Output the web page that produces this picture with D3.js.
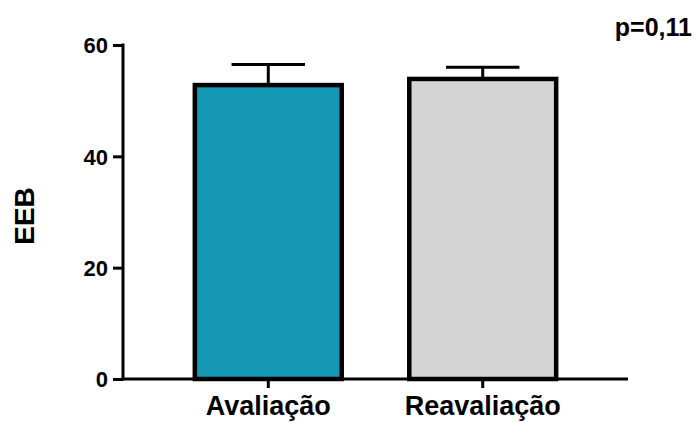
<!DOCTYPE html>
<html>
<head>
<meta charset="utf-8">
<script src="https://cdn.jsdelivr.net/npm/d3@7"></script>
<style>
  html, body { margin: 0; padding: 0; background: #fff; }
  svg { display: block; font-family: "Liberation Sans", Arial, sans-serif; font-weight: bold; }
</style>
</head>
<body>
<svg id="chart" width="696" height="423"></svg>
<script>
// EEB scores, initial assessment vs. reassessment (mean + SD)
const categories = ["Avaliação", "Reavaliação"];
const means = [52.8, 53.9];
const sds = [3.7, 2.1];
const fills = ["#1497b2", "#d4d4d4"];
const yTicks = [0, 20, 40, 60];
const pLabel = "p=0,11";
const yLabel = "EEB";

const svg = d3.select("#chart");
const x0 = 123, x1 = 628, yTop = 45, yBottom = 379;

const x = d3.scaleBand()
  .domain(categories)
  .range([x0, x1])
  .paddingInner(0.315)
  .paddingOuter(0.335);

const y = d3.scaleLinear().domain([0, 60]).range([yBottom, yTop]);

const data = categories.map((c, i) => ({ c, m: means[i], sd: sds[i], fill: fills[i] }));

// error bars (upper whisker only) drawn beneath the bars
const eb = svg.append("g").attr("stroke", "#000").attr("stroke-width", 3);
data.forEach(d => {
  const cx = x(d.c) + x.bandwidth() / 2;
  const capHalf = x.bandwidth() / 4;
  eb.append("line").attr("x1", cx).attr("x2", cx).attr("y1", y(d.m)).attr("y2", y(d.m + d.sd));
  eb.append("line").attr("x1", cx - capHalf).attr("x2", cx + capHalf)
    .attr("y1", y(d.m + d.sd)).attr("y2", y(d.m + d.sd));
});

// bars
svg.append("g").selectAll("rect").data(data).join("rect")
  .attr("x", d => x(d.c))
  .attr("y", d => y(d.m))
  .attr("width", x.bandwidth())
  .attr("height", d => y(0) - y(d.m))
  .attr("fill", d => d.fill)
  .attr("stroke", "#000")
  .attr("stroke-width", 4.5);

// y axis
const yAxis = svg.append("g")
  .attr("transform", `translate(${x0},0)`)
  .call(d3.axisLeft(y).tickValues(yTicks).tickSize(10).tickPadding(5).tickSizeOuter(0));
yAxis.select(".domain").attr("stroke-width", 3).attr("d", `M0,${yBottom + 1.5}V${yTop - 1.5}`);
yAxis.selectAll(".tick line").attr("stroke-width", 3);
yAxis.selectAll(".tick text")
  .attr("font-size", 22).attr("font-weight", "bold").attr("fill", "#000")
  .attr("font-family", "Liberation Sans, Arial, sans-serif")
  .attr("dy", "0.36em");

// x axis
const xAxis = svg.append("g")
  .attr("transform", `translate(0,${yBottom})`)
  .call(d3.axisBottom(x).tickSize(9).tickPadding(8).tickSizeOuter(0));
xAxis.select(".domain").attr("stroke-width", 3).attr("d", `M${x0 - 1.5},0H${x1}`);
xAxis.selectAll(".tick line").attr("stroke-width", 3);
xAxis.selectAll(".tick text")
  .attr("font-size", 27).attr("font-weight", "bold").attr("fill", "#000")
  .attr("font-family", "Liberation Sans, Arial, sans-serif");

// y axis title
svg.append("text")
  .attr("transform", `translate(34,216) rotate(-90)`)
  .attr("text-anchor", "middle")
  .attr("font-size", 28)
  .attr("fill", "#000")
  .text(yLabel);

// p-value annotation
svg.append("text")
  .attr("x", 692).attr("y", 36)
  .attr("text-anchor", "end")
  .attr("font-size", 25)
  .attr("fill", "#000")
  .text(pLabel);
</script>
</body>
</html>
